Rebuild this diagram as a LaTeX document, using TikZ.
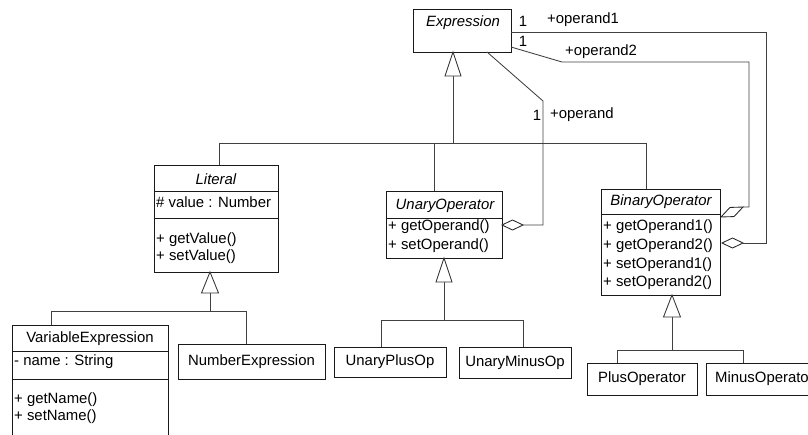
\documentclass[tikz,border=0pt]{standalone}
\usepackage{fontspec}
\setmainfont{Liberation Sans}
\usetikzlibrary{calc}
\begin{document}
\begin{tikzpicture}[x=1pt,y=-1pt,
  box/.style={draw=black!90, line width=0.9pt, fill=white, anchor=north west, inner sep=0pt, outer sep=0pt},
  divl/.style={draw=black!90, line width=0.9pt},
  lbl/.style={inner sep=0pt, font=\fontsize{14.9}{16}\selectfont},
  nm/.style={inner sep=0pt, font=\fontsize{14.9}{16}\selectfont\itshape},
  op/.style={lbl, anchor=west},
  conn/.style={draw=black!75, line width=0.85pt},
  tri/.style={draw=black!80, fill=white, line width=0.85pt},
  dia/.style={draw=black!85, fill=white, line width=0.85pt}]
\useasboundingbox (0,0) rectangle (808,434);
\clip (0,0) rectangle (808,434);

% ---------- Expression ----------
\node[box, minimum width=98pt, minimum height=43pt] (expr) at (413,9) {};
\node[nm] (exprN) at (463,23) {Expression};

% ---------- Literal ----------
\node[box, minimum width=124pt, minimum height=107pt] (lit) at (154,165) {};
\draw[divl] ($(lit.north west)+(0,26)$) -- ($(lit.north east)+(0,26)$);
\draw[divl] ($(lit.north west)+(0,53)$) -- ($(lit.north east)+(0,53)$);
\node[nm] (litN) at (216,179) {Literal};
\node[op] (litA) at (156,202) {\# value : Number};
\node[op] (litO1) at (156,240) {+ getValue()};
\node[op] (litO2) at (156,257) {+ setValue()};

% ---------- UnaryOperator ----------
\node[box, minimum width=116pt, minimum height=67pt] (un) at (386,191) {};
\draw[divl] ($(un.north west)+(0,27)$) -- ($(un.north east)+(0,27)$);
\node[nm] (unN) at (445,206) {UnaryOperator};
\node[op] (unO1) at (388,227) {+ getOperand()};
\node[op] (unO2) at (388,246) {+ setOperand()};

% ---------- BinaryOperator ----------
\node[box, minimum width=119pt, minimum height=106pt] (bin) at (601,189) {};
\draw[divl] ($(bin.north west)+(0,25)$) -- ($(bin.north east)+(0,25)$);
\node[nm] (binN) at (661,202) {BinaryOperator};
\node[op] (binO1) at (603,227) {+ getOperand1()};
\node[op] (binO2) at (603,246) {+ getOperand2()};
\node[op] (binO3) at (603,265) {+ setOperand1()};
\node[op] (binO4) at (603,283) {+ setOperand2()};

% ---------- VariableExpression ----------
\node[box, minimum width=156pt, minimum height=125pt] (var) at (12,325) {};
\draw[divl] ($(var.north west)+(0,26)$) -- ($(var.north east)+(0,26)$);
\draw[divl] ($(var.north west)+(0,54)$) -- ($(var.north east)+(0,54)$);
\node[lbl] (varN) at (90,339) {VariableExpression};
\node[op] (varA) at (14,362) {- name : String};
\node[op] (varO1) at (14,400) {+ getName()};
\node[op] (varO2) at (14,417) {+ setName()};

% ---------- simple classes ----------
\node[box, minimum width=147pt, minimum height=35pt] (num) at (178,344) {};
\node[lbl] at (num.center) {NumberExpression};
\node[box, minimum width=112pt, minimum height=30pt] (uplus) at (334,347) {};
\node[lbl] at (uplus.center) {UnaryPlusOp};
\node[box, minimum width=112pt, minimum height=31pt] (uminus) at (459,347) {};
\node[lbl] at (uminus.center) {UnaryMinusOp};
\node[box, minimum width=110pt, minimum height=32pt] (plus) at (587,363) {};
\node[lbl] at (plus.center) {PlusOperator};
\node[box, minimum width=124pt, minimum height=32pt] (minus) at (706,363) {};
\node[lbl, anchor=west] at ($(minus.west)+(9,0)$) {MinusOperator};

% ---------- generalization: Expression ----------
\coordinate (eA) at (453,52);
\coordinate (eB) at (453,76);
\coordinate (eJ) at (453,143);
\coordinate (litT) at (219,165);
\coordinate (unT) at (434,191);
\coordinate (binT) at (646,189);
\draw[conn] (eB) -- (eJ);
\draw[conn] (litT) -- ++(0,-22) -| (binT);
\draw[conn] (unT) -- (434,143);
\draw[tri] (eA) -- ++(8,24) -- ++(-16,0) -- cycle;

% ---------- generalization: Literal ----------
\coordinate (lA) at (210,272);
\coordinate (lB) at (210,293);
\coordinate (varT) at (51,325);
\coordinate (numT) at (246,344);
\draw[conn] (lB) -- (210,311);
\draw[conn] (varT) -- ++(0,-14) -| (numT);
\draw[tri] (lA) -- ++(8.5,21) -- ++(-17,0) -- cycle;

% ---------- generalization: UnaryOperator ----------
\coordinate (uA) at (444,258);
\coordinate (uB) at (444,282);
\coordinate (upT) at (381,347);
\coordinate (umT) at (523,347);
\draw[conn] (uB) -- (444,320);
\draw[conn] (upT) -- ++(0,-27) -| (umT);
\draw[tri] (uA) -- ++(8,24) -- ++(-16,0) -- cycle;

% ---------- generalization: BinaryOperator ----------
\coordinate (bA) at (672,295);
\coordinate (bB) at (672,317);
\coordinate (plT) at (617,363);
\coordinate (miT) at (743,363);
\draw[conn] (bB) -- (672,350);
\draw[conn] (plT) -- ++(0,-13) -| (miT);
\draw[tri] (bA) -- ++(8.5,22) -- ++(-17,0) -- cycle;

% ---------- association: operand ----------
\coordinate (o0S) at (487,52);
\coordinate (o0D) at (523,225);
\draw[conn] (o0S) -- (543,101) |- (o0D);
\draw[dia] (o0D) -- ++(-10.5,-5) -- ++(-10.5,5) -- ++(10.5,5) -- cycle;
\node[lbl] (m0) at (537,115) {1};
\node[op] (r0) at (550,115) {+operand};

% ---------- association: operand1 ----------
\coordinate (o1S) at (511,32);
\coordinate (o1D) at (743,243);
\draw[conn] (o1S) -- (766,32) |- (o1D);
\draw[dia] (o1D) -- ++(-10.5,-5) -- ++(-10.5,5) -- ++(10.5,5) -- cycle;
\node[lbl] (m1) at (523,21) {1};
\node[op] (r1) at (547,20) {+operand1};

% ---------- association: operand2 ----------
\coordinate (o2S) at (511,47);
\coordinate (o2D) at (743,207);
\draw[conn] (o2S) -- (562,62) -- (749,62) |- (o2D);
\draw[dia] (o2D) -- (734.07,216.55) -- (721,217) -- (729.93,207.45) -- cycle;
\node[lbl] (m2) at (523,41) {1};
\node[op] (r2) at (565,52) {+operand2};
\end{tikzpicture}
\end{document}
